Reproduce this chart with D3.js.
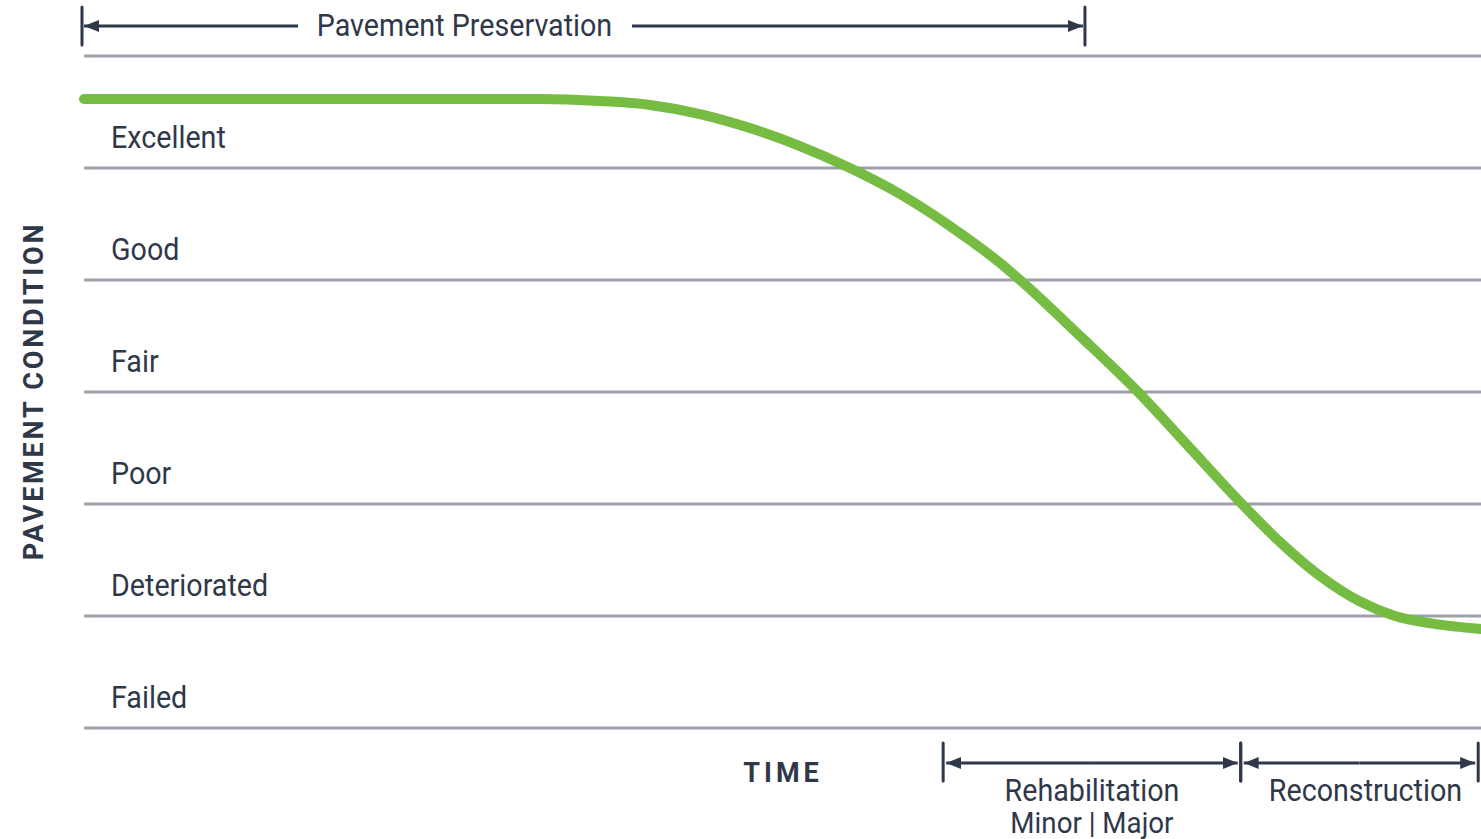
<!DOCTYPE html>
<html>
<head>
<meta charset="utf-8">
<script src="https://cdn.jsdelivr.net/npm/d3@7"></script>
<style>
  body { margin: 0; background: #fff; }
  text { font-family: Roboto, "Noto Sans", sans-serif; fill: #2f3849; }
</style>
</head>
<body>
<div id="chart"></div>
<script>
// condition bands, bottom to top
let conditions = ["Failed", "Deteriorated", "Poor", "Fair", "Good", "Excellent"];

// deterioration curve: time (0-100) vs condition (0 = bottom of Failed, 6 = top of Excellent)
let curveTime = [0, 32.64, 36.94, 40.52, 44.09, 47.67, 51.25, 54.83, 58.41, 61.99, 65.57, 67.0,
                 71.3, 75.45, 79.17, 82.89, 85.61, 88.48, 91.34, 93.84, 96.56, 100];
let curveCond = [5.616, 5.616, 5.598, 5.563, 5.482, 5.357, 5.196, 5.0, 4.768, 4.482, 4.152, 4.0,
                 3.5, 3.0, 2.5, 2.0, 1.661, 1.357, 1.129, 1.0, 0.932, 0.884];

// treatment phases along the time axis
let phaseNames = ["Pavement Preservation", "Rehabilitation", "Reconstruction"];
let phaseStart = [0, 61.5, 82.8];
let phaseEnd = [71.65, 82.8, 99.8];

let width = 1481, height = 839;
let ink = "#2f3849";
let squeeze = 0.925; // slightly condensed look for the labels

let svg = d3.select("#chart").append("svg")
  .attr("width", width)
  .attr("height", height);

let x = d3.scaleLinear().domain([0, 100]).range([84, 1481]);
let y = d3.scaleLinear().domain([0, 6]).range([728, 56]);

// arrow heads
let defs = svg.append("defs");
defs.append("marker")
  .attr("id", "arrow")
  .attr("viewBox", "0 0 15 12")
  .attr("refX", 15).attr("refY", 6)
  .attr("markerWidth", 15).attr("markerHeight", 12)
  .attr("markerUnits", "userSpaceOnUse")
  .attr("orient", "auto-start-reverse")
  .append("path")
  .attr("d", "M0,0 L15,6 L0,12 Z")
  .attr("fill", ink);

// little helper for horizontally squeezed text
function label(parent, txt, px, py, size, anchor, weight) {
  return parent.append("text")
    .attr("transform", `translate(${px},${py}) scale(${squeeze},1)`)
    .attr("font-size", size)
    .attr("font-weight", weight || 400)
    .attr("text-anchor", anchor)
    .text(txt);
}

// gridlines (band boundaries)
svg.append("g")
  .selectAll("line")
  .data(d3.range(0, 7))
  .enter()
  .append("line")
  .attr("x1", x(0)).attr("x2", x(100))
  .attr("y1", d => y(d)).attr("y2", d => y(d))
  .attr("stroke", "#9d9fab")
  .attr("stroke-width", 3);

// band labels
let bandLabels = svg.append("g");
conditions.forEach((c, i) => {
  label(bandLabels, c, 111, y(i + 1) + 92, 31, "start");
});

// the curve
let line = d3.line()
  .x(d => x(d[0]))
  .y(d => y(d[1]))
  .curve(d3.curveMonotoneX);

svg.append("path")
  .datum(curveTime.map((t, i) => [t, curveCond[i]]))
  .attr("d", line)
  .attr("fill", "none")
  .attr("stroke", "#76bc43")
  .attr("stroke-width", 10)
  .attr("stroke-linecap", "round");

// axis titles
svg.append("text")
  .attr("transform", "translate(43,391) rotate(-90)")
  .attr("font-size", 27)
  .attr("font-weight", 700)
  .attr("letter-spacing", 2.8)
  .attr("text-anchor", "middle")
  .text("PAVEMENT CONDITION");

svg.append("text")
  .attr("x", 783).attr("y", 782)
  .attr("font-size", 27)
  .attr("font-weight", 700)
  .attr("letter-spacing", 4)
  .attr("text-anchor", "middle")
  .text("TIME");

// phase brackets
function tick(g, px, y0, y1) {
  g.append("line")
    .attr("x1", px).attr("x2", px)
    .attr("y1", y0).attr("y2", y1)
    .attr("stroke", ink).attr("stroke-width", 3)
    .attr("stroke-linecap", "round");
}
function arrowLine(g, xa, xb, py) {
  g.append("line")
    .attr("x1", xa).attr("x2", xb)
    .attr("y1", py).attr("y2", py)
    .attr("stroke", ink).attr("stroke-width", 3)
    .attr("marker-end", "url(#arrow)");
}

// top: Pavement Preservation, text sits in a gap of the arrow
let topGroup = svg.append("g");
let x0 = x(phaseStart[0]) - 2, x1 = x(phaseEnd[0]);
tick(topGroup, x0, 7, 45);
tick(topGroup, x1, 7, 45);
arrowLine(topGroup, 298, x0 + 2, 26);
arrowLine(topGroup, 632, x1 - 2, 26);
label(topGroup, phaseNames[0], (x0 + x1) / 2 - 119, 36, 31, "middle");

// bottom: Rehabilitation and Reconstruction
let bottomGroup = svg.append("g");
[1, 2].forEach(i => {
  let a = x(phaseStart[i]), b = x(phaseEnd[i]);
  tick(bottomGroup, a, 743, 781);
  tick(bottomGroup, b, 743, 781);
  let mid = (a + b) / 2;
  arrowLine(bottomGroup, mid, a + 3, 763);
  arrowLine(bottomGroup, mid, b - 3, 763);
  label(bottomGroup, phaseNames[i], mid + (i === 2 ? 6 : 0), 801, 31, "middle");
});
label(bottomGroup, "Minor | Major", (x(phaseStart[1]) + x(phaseEnd[1])) / 2, 833, 30, "middle");
</script>
</body>
</html>
